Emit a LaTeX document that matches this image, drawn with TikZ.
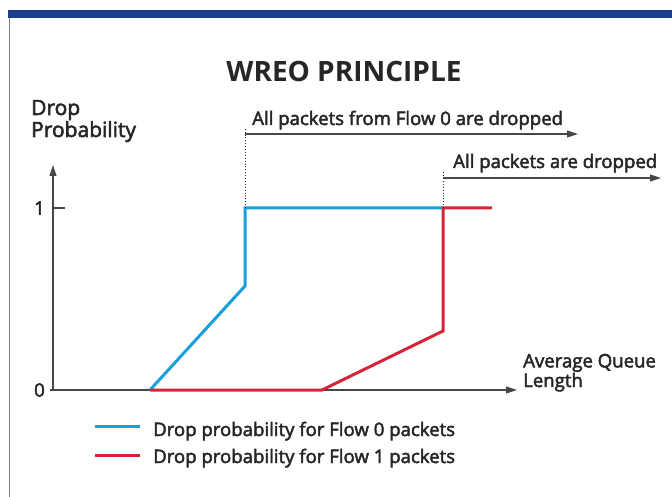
\documentclass[tikz,border=0pt]{standalone}
\usepackage{fontspec}
\setmainfont{Open Sans}
\newfontfamily\labelfont[FakeBold=2.5]{Open Sans}
\usetikzlibrary{arrows.meta,positioning}

\definecolor{wblue}{RGB}{25,160,220}
\definecolor{wred}{RGB}{215,35,55}
\definecolor{wbar}{RGB}{28,62,145}
\definecolor{wtext}{RGB}{38,38,38}

\begin{document}
\begin{tikzpicture}[x=1pt,y=-1pt,>={Triangle[length=11pt,width=7pt]},
    flowzero/.style={wblue, line width=3pt},
    flowone/.style={wred, line width=3pt},
    axisline/.style={draw=wtext!85, line width=1.1pt},
    marker/.style={dotted, draw=wtext, line width=0.9pt},
    plaintext/.style={text=wtext, inner sep=0pt, font=\labelfont\fontsize{18.6}{18}\selectfont},
    titletext/.style={text=wtext, inner sep=0pt, font=\bfseries\fontsize{28}{30}\selectfont}]
  \useasboundingbox (0,0) rectangle (672,497);

  % frame of the page
  \fill[wbar] (8,10) rectangle (672,18);
  \draw[gray, line width=1pt] (9.5,18) -- (9.5,497);

  \node[titletext, anchor=base] (title) at (344,82) {WREO PRINCIPLE};

  % axes
  \coordinate (origin) at (53,390);
  \coordinate (ytip)   at (53,165);
  \coordinate (xtip)   at (517,390);
  \coordinate (yone)   at (53,208);
  \coordinate (ytick)  at (65,208);
  \draw[axisline,->] (origin) -- (ytip);
  \draw[axisline,->] (origin) -- (xtip);
  \draw[axisline] (yone) -- (ytick);
  \draw[axisline] (origin) -- ++(-3,0);

  \node[plaintext, font=\labelfont\fontsize{21}{20}\selectfont, align=left, anchor=base west] (ylabel) at (31,137) {Drop\\Probability};
  \node[plaintext, anchor=east] (one)  at (45,208) {1};
  \node[plaintext, anchor=east] (zero) at (45,390) {0};
  \node[plaintext, align=left, anchor=base west] (xlabel) at (523,387) {Average Queue\\Length};

  % drop curves
  \coordinate (min0)   at (150,390);
  \coordinate (knee0)  at (245,286);
  \coordinate (max0)   at (245,208);
  \coordinate (max1)   at (443,208);
  \coordinate (min1)   at (322,390);
  \coordinate (knee1)  at (443,331);
  \coordinate (full1)  at (492,208);
  \draw[flowzero, line join=miter] (min0) -- (knee0) -- (max0) -- (max1);
  \draw[flowone, line join=miter] (min0) -- (min1) -- (knee1) -- (max1) -- (full1);

  % dropping regions
  \coordinate (drop0)  at (245,134);
  \coordinate (end0)   at (578,134);
  \coordinate (drop1)  at (443,178);
  \coordinate (end1)   at (661,178);
  \draw[marker] (max0) -- ([yshift=6pt]drop0);
  \draw[marker] (max1) -- ([yshift=6pt]drop1);
  \draw[axisline,->] (drop0) -- (end0);
  \draw[axisline,->] (drop1) -- (end1);
  \node[plaintext, anchor=base west] (allflow0) at (252,125) {All packets from Flow 0 are dropped};
  \node[plaintext, anchor=base west] (allflows) at (453,168) {All packets are dropped};

  % legend
  \coordinate (key0a) at (95,426);
  \coordinate (key0b) at (140,426);
  \coordinate (key1a) at (95,455);
  \coordinate (key1b) at (140,455);
  \draw[flowzero] (key0a) -- (key0b);
  \draw[flowone]  (key1a) -- (key1b);
  \node[plaintext, anchor=base west] (legend0) at (153,436) {Drop probability for Flow 0 packets};
  \node[plaintext, anchor=base west] (legend1) at (153,463) {Drop probability for Flow 1 packets};
\end{tikzpicture}
\end{document}
